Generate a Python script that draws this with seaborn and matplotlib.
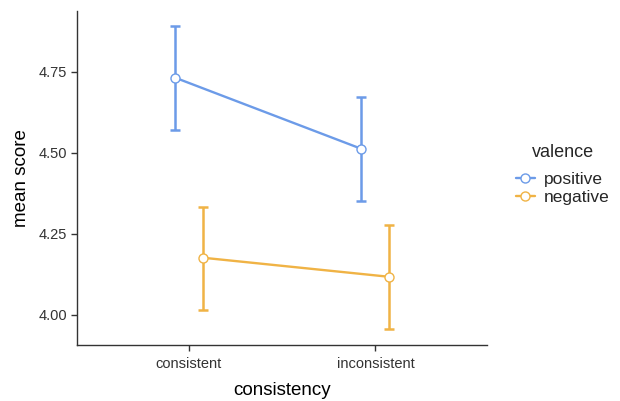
import numpy as np
import pandas as pd
import seaborn as sns
import matplotlib.pyplot as plt

consistency = ['consistent', 'inconsistent']
valence = ['positive', 'negative']
pos_mean = [4.732, 4.512]
pos_lo = [4.571, 4.352]
pos_hi = [4.892, 4.673]
neg_mean = [4.176, 4.117]
neg_lo = [4.015, 3.957]
neg_hi = [4.334, 4.276]

colors = {'positive': '#6C9BE8', 'negative': '#F0B345'}
dodge = {'positive': -0.075, 'negative': 0.075}

rows = []
for v, m, lo, hi in [('positive', pos_mean, pos_lo, pos_hi),
                     ('negative', neg_mean, neg_lo, neg_hi)]:
    for i, c in enumerate(consistency):
        rows.append({'consistency': c, 'valence': v, 'mean': m[i],
                     'lo': lo[i], 'hi': hi[i], 'x': i + dodge[v]})
df = pd.DataFrame(rows)

sns.set_style('ticks')
plt.rcParams['font.family'] = ['Liberation Sans', 'DejaVu Sans']

fig = plt.figure(figsize=(6.2, 4.01), dpi=100)
ax = fig.add_axes([0.124, 0.14, 0.662, 0.833])

handles = []
for v in valence:
    d = df[df['valence'] == v]
    c = colors[v]
    ax.errorbar(d['x'], d['mean'],
                yerr=[d['mean'] - d['lo'], d['hi'] - d['mean']],
                fmt='none', ecolor=c, elinewidth=1.8, capsize=3.8,
                capthick=1.8, zorder=2)
    sns.lineplot(data=d, x='x', y='mean', color=c, linewidth=1.7,
                 marker='o', markersize=6.5, markerfacecolor='white',
                 markeredgecolor=c, markeredgewidth=1.0, ax=ax, zorder=3)
    h, = ax.plot([], [], color=c, linewidth=1.7, marker='o', markersize=6.5,
                 markerfacecolor='white', markeredgecolor=c,
                 markeredgewidth=1.0)
    handles.append(h)

ax.set_xlim(-0.6, 1.6)
ax.set_ylim(3.907, 4.938)
ax.set_xticks([0, 1])
ax.set_xticklabels(consistency)
ax.set_yticks([4.0, 4.25, 4.5, 4.75])
ax.set_yticklabels(['4.00', '4.25', '4.50', '4.75'])
ax.tick_params(axis='both', labelsize=10.5, colors='#333333', length=4,
               width=1.0, labelcolor='#333333', pad=3)
ax.tick_params(axis='x', pad=5)
for s in ['left', 'bottom']:
    ax.spines[s].set_color('#333333')
    ax.spines[s].set_linewidth(1.0)
sns.despine(ax=ax)
ax.set_xlabel('consistency', fontsize=13.5, color='black', labelpad=8)
ax.set_ylabel('mean score', fontsize=13.5, color='black', labelpad=6)

leg = fig.legend(handles, valence, title='valence', loc='center left',
                 bbox_to_anchor=(0.832, 0.555), frameon=False, fontsize=12.5,
                 title_fontsize=13, handlelength=1.1, handletextpad=0.5,
                 labelspacing=0.15, borderpad=0, borderaxespad=0)
leg.get_title().set_position((0, 8))

fig.savefig('out.png', dpi=100)
